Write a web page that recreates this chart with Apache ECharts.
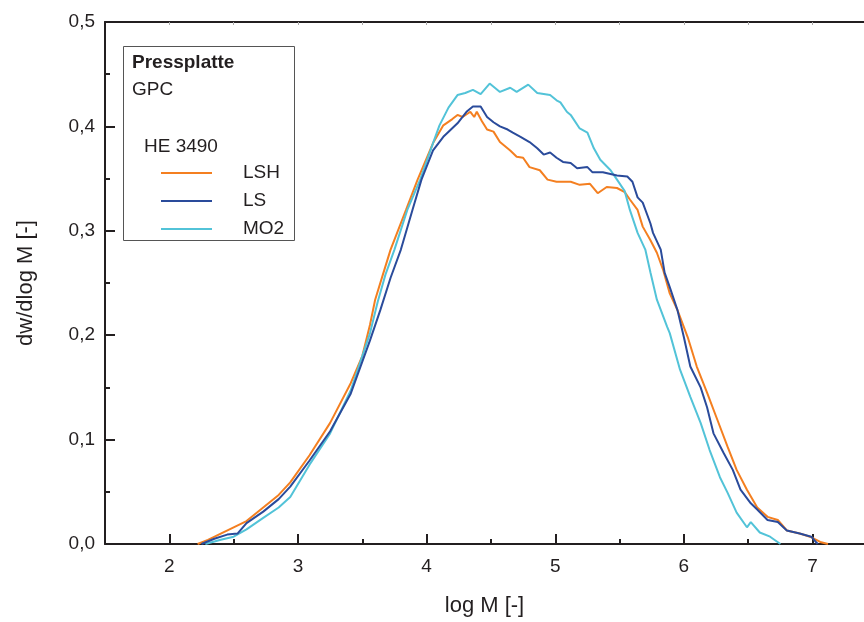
<!DOCTYPE html>
<html>
<head>
<meta charset="utf-8">
<script src="https://cdn.jsdelivr.net/npm/echarts@6/dist/echarts.min.js"></script>
<style>html,body{margin:0;padding:0;background:#fff}#c{width:864px;height:622px}</style>
</head>
<body>
<div id="c"></div>
<script>
// ---- data ----
const seriesNames = ['LSH', 'LS', 'MO2'];
const xTickValues = [2, 3, 4, 5, 6, 7];
const xMinorTickValues = [2.5, 3.5, 4.5, 5.5, 6.5];
const yTickValues = [0, 0.1, 0.2, 0.3, 0.4, 0.5];

const lshX = [2.22,2.30,2.40,2.50,2.60,2.73,2.85,2.94,3.09,3.25,3.41,3.50,3.56,3.60,3.66,3.72,3.84,3.93,4.05,4.13,4.20,4.24,4.28,4.34,4.37,4.39,4.43,4.47,4.52,4.57,4.65,4.70,4.75,4.80,4.88,4.94,5.01,5.12,5.19,5.27,5.33,5.40,5.48,5.54,5.58,5.64,5.68,5.74,5.79,5.84,5.89,5.95,6.03,6.10,6.18,6.26,6.34,6.41,6.49,6.57,6.65,6.73,6.80,6.90,6.98,7.06,7.12];
const lshY = [0.000,0.004,0.010,0.016,0.022,0.035,0.047,0.059,0.085,0.116,0.154,0.180,0.210,0.234,0.258,0.282,0.320,0.349,0.384,0.401,0.407,0.411,0.409,0.414,0.409,0.414,0.405,0.397,0.395,0.385,0.377,0.371,0.370,0.361,0.358,0.349,0.347,0.347,0.344,0.345,0.336,0.342,0.341,0.337,0.330,0.320,0.304,0.291,0.279,0.262,0.240,0.224,0.198,0.170,0.145,0.119,0.093,0.071,0.052,0.035,0.026,0.023,0.013,0.010,0.007,0.002,0.000];

const lsX = [2.25,2.35,2.45,2.53,2.60,2.73,2.85,2.94,3.09,3.25,3.41,3.56,3.64,3.72,3.80,3.89,3.96,4.05,4.13,4.24,4.31,4.36,4.42,4.47,4.52,4.57,4.63,4.67,4.73,4.80,4.86,4.91,4.96,5.01,5.06,5.12,5.17,5.25,5.29,5.37,5.48,5.56,5.60,5.64,5.68,5.74,5.76,5.82,5.85,5.89,5.95,6.00,6.05,6.13,6.18,6.23,6.31,6.38,6.44,6.52,6.57,6.65,6.73,6.80,6.90,6.99,7.04];
const lsY = [0.000,0.005,0.009,0.010,0.020,0.031,0.043,0.055,0.080,0.108,0.144,0.195,0.224,0.255,0.282,0.320,0.349,0.377,0.390,0.403,0.414,0.419,0.419,0.409,0.404,0.400,0.397,0.394,0.390,0.385,0.379,0.373,0.375,0.370,0.366,0.365,0.360,0.361,0.356,0.356,0.353,0.352,0.347,0.332,0.327,0.307,0.298,0.282,0.260,0.246,0.224,0.198,0.170,0.150,0.131,0.106,0.087,0.071,0.052,0.039,0.033,0.023,0.021,0.013,0.010,0.007,0.000];

const mo2X = [2.28,2.40,2.50,2.60,2.73,2.85,2.94,3.09,3.25,3.41,3.56,3.62,3.68,3.75,3.85,3.95,4.05,4.10,4.17,4.24,4.30,4.36,4.42,4.49,4.57,4.65,4.70,4.79,4.86,4.96,5.01,5.04,5.09,5.12,5.19,5.25,5.30,5.35,5.43,5.48,5.54,5.58,5.64,5.70,5.74,5.79,5.87,5.89,5.97,6.05,6.13,6.20,6.28,6.34,6.41,6.49,6.52,6.59,6.67,6.75];
const mo2Y = [0.000,0.004,0.007,0.014,0.025,0.035,0.045,0.076,0.106,0.147,0.202,0.232,0.258,0.282,0.320,0.349,0.384,0.401,0.418,0.430,0.432,0.435,0.431,0.441,0.433,0.437,0.433,0.440,0.432,0.430,0.425,0.423,0.414,0.411,0.398,0.394,0.379,0.368,0.358,0.349,0.338,0.320,0.298,0.282,0.260,0.234,0.208,0.202,0.167,0.141,0.116,0.090,0.064,0.049,0.030,0.016,0.021,0.011,0.007,0.000];

const colors = ['#f47f20', '#2a4b9b', '#52c3d8'];
// ---- chart ----
const FONT = '"Liberation Sans", Arial, Helvetica, sans-serif';
const ink = '#231f20';
const chart = echarts.init(document.getElementById('c'), null, {renderer: 'canvas'});
const pairs = (xs, ys) => xs.map((x, i) => [x, ys[i]]);
const dataSets = [pairs(lshX, lshY), pairs(lsX, lsY), pairs(mo2X, mo2Y)];

chart.setOption({
  animation: false,
  backgroundColor: '#fff',
  color: colors,
  grid: {left: 105, top: 22, bottom: 78, right: 0, containLabel: false},
  textStyle: {fontFamily: FONT},
  xAxis: [
    {
      type: 'value', min: 1.5, max: 7.4, position: 'bottom',
      name: 'log M [-]', nameLocation: 'middle', nameGap: 51,
      nameTextStyle: {fontSize: 22, color: ink, fontFamily: FONT},
      axisLine: {show: true, onZero: false, lineStyle: {color: ink, width: 2}},
      axisTick: {show: true, inside: true, length: 10, customValues: xTickValues, lineStyle: {color: ink, width: 2}},
      axisLabel: {show: true, customValues: xTickValues, margin: 13, fontSize: 19, color: ink, fontFamily: FONT,
                  formatter: v => String(v)},
      splitLine: {show: false}
    },
    {
      type: 'value', min: 1.5, max: 7.4, position: 'bottom',
      axisLine: {show: false},
      axisTick: {show: true, inside: true, length: 5, customValues: xMinorTickValues, lineStyle: {color: ink, width: 2}},
      axisLabel: {show: false},
      splitLine: {show: false}
    },
    {
      type: 'value', min: 1.5, max: 7.4, position: 'top',
      axisLine: {show: true, onZero: false, lineStyle: {color: ink, width: 2}},
      axisTick: {show: true, inside: true, length: 3, customValues: xTickValues.concat(xMinorTickValues), lineStyle: {color: '#aaa', width: 1}},
      axisLabel: {show: false},
      splitLine: {show: false}
    }
  ],
  yAxis: [
    {
      type: 'value', min: 0, max: 0.5, interval: 0.1,
      name: 'dw/dlog M [-]', nameLocation: 'middle', nameGap: 68,
      nameTextStyle: {fontSize: 22, color: ink, fontFamily: FONT},
      axisLine: {show: true, onZero: false, lineStyle: {color: ink, width: 2}},
      axisTick: {show: true, inside: true, length: 10, lineStyle: {color: ink, width: 2}},
      minorTick: {show: true, splitNumber: 2, length: 5, lineStyle: {color: ink, width: 2}},
      axisLabel: {margin: 10, fontSize: 19, color: ink, fontFamily: FONT,
                  formatter: v => v.toFixed(1).replace('.', ',')},
      splitLine: {show: false}
    }
  ],
  legend: {
    show: true,
    orient: 'vertical',
    left: 156, top: 158,
    data: seriesNames,
    icon: 'rect',
    itemWidth: 51, itemHeight: 2, itemGap: 8,
    textStyle: {fontSize: 19, color: ink, fontFamily: FONT, lineHeight: 20, padding: [0, 0, 0, 26]},
    selectedMode: false
  },
  graphic: [
    {type: 'rect', left: 121, top: 44, shape: {width: 171, height: 194},
     style: {fill: 'none', stroke: '#555', lineWidth: 1}, z: 10},
    {type: 'text', left: 132, top: 53, style: {text: 'Pressplatte', font: 'bold 19px ' + FONT, fill: ink}, z: 10},
    {type: 'text', left: 132, top: 80, style: {text: 'GPC', font: '19px ' + FONT, fill: ink}, z: 10},
    {type: 'text', left: 144, top: 137, style: {text: 'HE 3490', font: '19px ' + FONT, fill: ink}, z: 10}
  ],
  series: seriesNames.map((n, i) => ({
    name: n, type: 'line', xAxisIndex: 0, yAxisIndex: 0,
    data: dataSets[i], showSymbol: false, symbol: 'none', smooth: false,
    lineStyle: {width: 2, color: colors[i]}, itemStyle: {color: colors[i]},
    z: 3 + (i === 1 ? 1 : 0)
  }))
});
</script>
</body>
</html>
